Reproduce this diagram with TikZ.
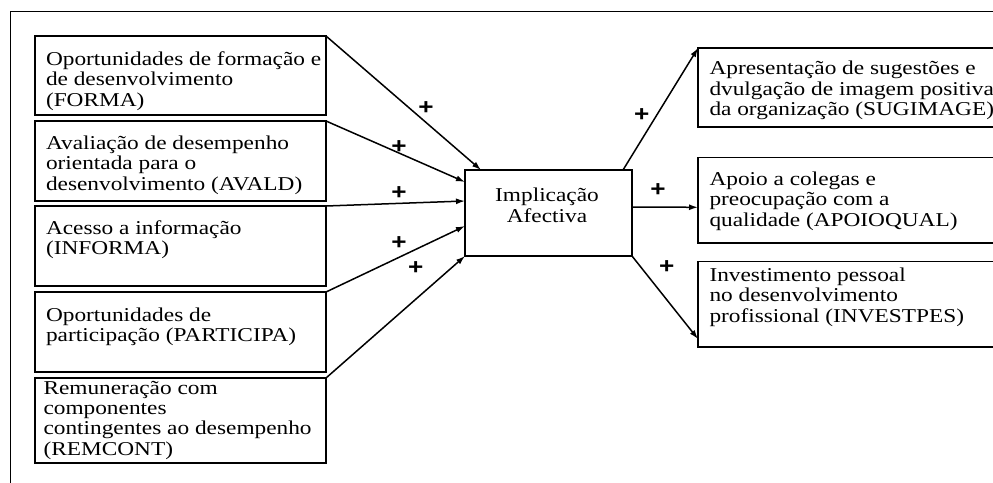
\documentclass[tikz,border=0pt]{standalone}
\usepackage{fontspec}
\setmainfont[FakeStretch=1.19]{Liberation Serif}
\newfontfamily\plusfont[FakeStretch=1.19]{Liberation Sans}
\usetikzlibrary{arrows.meta,calc}
\newcommand\mlines[1]{\vtop{\halign{##\hfil\cr#1\crcr}}}
\newcommand\clines[1]{\vtop{\halign{\hfil##\hfil\cr#1\crcr}}}
\tikzset{
  box/.style={draw, line width=1.2pt, rectangle, inner sep=0pt, outer sep=0pt, anchor=north west},
  txt/.style={inner sep=0pt, outer sep=0pt, anchor=base west, font=\fontsize{19.6}{20.4}\selectfont},
  arr/.style={line width=1.5pt, -{Latex[length=9pt,width=6pt]}},
  sign/.style={inner sep=0pt, font=\plusfont\bfseries\fontsize{22}{22}\selectfont}
}
\begin{document}
\begin{tikzpicture}[x=1pt,y=-1pt]
\useasboundingbox (0,0) rectangle (993,482);
\fill[white] (0,0) rectangle (993,482);
\clip (0,0) rectangle (993,482);
% frame
\draw[line width=1pt] (10,495) -- (10,11) -- (1005,11);
% left boxes
\node[box, minimum width=291pt, minimum height=79pt] (b1) at (35,36) {};
\node[box, minimum width=291pt, minimum height=80pt] (b2) at (35,121) {};
\node[box, minimum width=291pt, minimum height=80pt] (b3) at (35,206) {};
\node[box, minimum width=291pt, minimum height=80pt] (b4) at (35,292) {};
\node[box, minimum width=291pt, minimum height=85pt] (b5) at (35,378) {};
\node[txt] (t1) at (46,65.3) {\mlines{Oportunidades de formação e\cr de desenvolvimento\cr (FORMA)}};
\node[txt] (t2) at (46,149.3) {\mlines{Avaliação de desempenho\cr orientada para o\cr desenvolvimento (AVALD)}};
\node[txt] (t3) at (46,234.3) {\mlines{Acesso a informação\cr (INFORMA)}};
\node[txt] (t4) at (46,321) {\mlines{Oportunidades de\cr participação (PARTICIPA)}};
\node[txt] (t5) at (43.5,394) {\mlines{Remuneração com\cr componentes\cr contingentes ao desempenho\cr (REMCONT)}};
% centre
\node[box, minimum width=167pt, minimum height=86pt] (c) at (465,170) {};
\node[txt, anchor=base] (ct) at (547,201.7) {\clines{Implicação\cr Afectiva}};
% right boxes
\node[box, minimum width=320pt, minimum height=79pt] (r1) at (698,48) {};
\node[box, minimum width=320pt, minimum height=85.7pt] (r2) at (698,157.3) {};
\node[box, minimum width=320pt, minimum height=85.7pt] (r3) at (698,261.3) {};
\node[txt] (s1) at (709.5,74.7) {\mlines{Apresentação de sugestões e\cr dvulgação de imagem positiva\cr da organização (SUGIMAGE)}};
\node[txt] (s2) at (709.5,185.3) {\mlines{Apoio a colegas e\cr preocupação com a\cr qualidade (APOIOQUAL)}};
\node[txt] (s3) at (709.5,281.3) {\mlines{Investimento pessoal\cr no desenvolvimento\cr profissional (INVESTPES)}};
% input arrows
\draw[arr] (b1.north east) -- ($(c.north west)+(16,0)$);
\draw[arr] (b2.north east) -- ($(c.north west)+(0,12)$);
\draw[arr] (b3.north east) -- ($(c.north west)+(0,31)$);
\draw[arr] (b4.north east) -- ($(c.north west)+(0,56)$);
\draw[arr] (b5.north east) -- (c.south west);
% output arrows
\draw[arr] ($(c.north east)+(-9,0)$) -- (r1.north west);
\draw[arr] ($(c.north east)+(0,37)$) -- ($(r2.north west)+(0,50)$);
\draw[arr] (c.south east) -- ($(r3.south west)+(0,-8)$);
% signs
\node[sign] (p1) at (426,108) {+};
\node[sign] (p2) at (399,146.7) {+};
\node[sign] (p3) at (399,193.3) {+};
\node[sign] (p4) at (399,243.3) {+};
\node[sign] (p5) at (415.7,267.7) {+};
\node[sign] (q1) at (641.7,115) {+};
\node[sign] (q2) at (658,190) {+};
\node[sign] (q3) at (666.7,267.3) {+};
\end{tikzpicture}
\end{document}
